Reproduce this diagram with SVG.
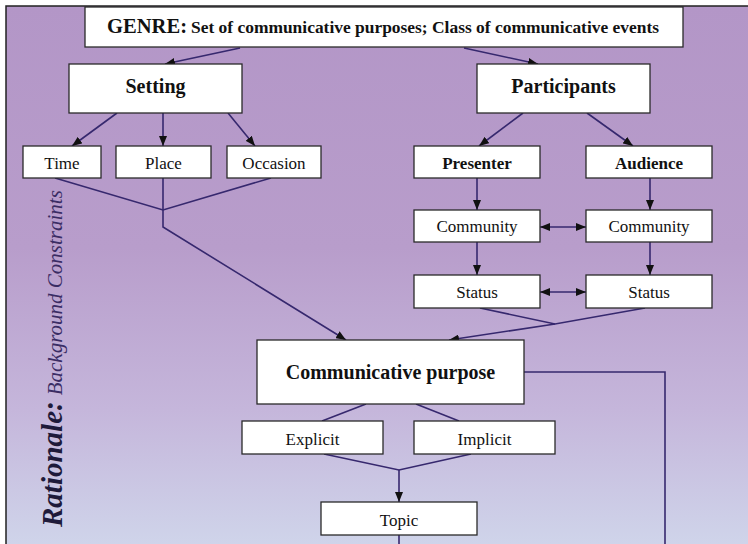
<svg xmlns="http://www.w3.org/2000/svg" width="748" height="544" viewBox="0 0 748 544">
  <defs>
    <linearGradient id="bg" x1="0" y1="0" x2="0" y2="1">
      <stop offset="0" stop-color="#b396c7"/>
      <stop offset="0.45" stop-color="#b89dcb"/>
      <stop offset="0.75" stop-color="#c5b6db"/>
      <stop offset="1" stop-color="#cfd4ea"/>
    </linearGradient>
    <marker id="ah" viewBox="0 0 10 8" refX="10" refY="4" markerWidth="10" markerHeight="8" markerUnits="userSpaceOnUse" orient="auto-start-reverse">
      <path d="M0,0 L10,4 L0,8 z" fill="#111"/>
    </marker>
  </defs>
  <style>
    .box{fill:#fff;stroke:#2a2a2a;stroke-width:1.3}
    .t{font-family:"Liberation Serif","Times New Roman",serif;fill:#111;text-anchor:middle;font-size:17px}
    .b{font-weight:bold}
    .c{fill:none;stroke:#36286e;stroke-width:1.6}
    .a{marker-end:url(#ah)}
    .d{marker-start:url(#ah);marker-end:url(#ah)}
  </style>

  <!-- backdrop and frame -->
  <rect x="0" y="0" width="748" height="544" fill="#fff"/>
  <rect x="6" y="6" width="742" height="538" fill="url(#bg)"/>
  <path d="M6,544 L6,6 L748,6" fill="none" stroke="#222" stroke-width="1.5"/>

  <!-- side caption -->
  <text transform="translate(62,527) rotate(-90)" font-family="Liberation Serif, Times New Roman, serif" font-style="italic"><tspan font-weight="bold" font-size="29" fill="#1e1a3a">Rationale:</tspan><tspan font-size="21" fill="#3a2c64" dx="6">Background Constraints</tspan></text>

  <!-- connectors -->
  <g id="connectors">
    <path class="c a" d="M240,48 L165,64"/>
    <path class="c a" d="M464,48 L538,64"/>
    <path class="c a" d="M117,113 L72,146"/>
    <path class="c a" d="M163,113 L163,146"/>
    <path class="c a" d="M228,113 L255,146"/>
    <path class="c a" d="M523,113 L479,146"/>
    <path class="c a" d="M587,113 L633,146"/>
    <path class="c a" d="M477,178 L477,210"/>
    <path class="c a" d="M650,178 L650,210"/>
    <path class="c d" d="M540,227 L586,227" stroke="#111"/>
    <path class="c a" d="M477,242 L477,275"/>
    <path class="c a" d="M650,242 L650,275"/>
    <path class="c d" d="M540,292 L586,292"/>
    <path class="c" d="M55,178 L163,210 L271,178"/>
    <path class="c a" d="M163,178 L163,227 L346,340"/>
    <path class="c" d="M480,308 L555,324 L645,308"/>
    <path class="c a" d="M555,324 L449,340"/>
    <path class="c" d="M366,404 L322,421"/>
    <path class="c" d="M416,404 L459,421"/>
    <path class="c" d="M324,454 L399,470 L471,454"/>
    <path class="c a" d="M399,470 L399,502" stroke="#1c1a4a"/>
    <path class="c" d="M399,535 L399,544" stroke="#1c1a4a"/>
    <path class="c" d="M524,372 L665,372 L665,544" stroke="#1c1a4a"/>
  </g>

  <!-- nodes -->
  <g id="genre">
    <rect class="box" x="85" y="7" width="598" height="40"/>
    <text class="t b" x="107" y="33" style="text-anchor:start;font-size:20px" textLength="80" lengthAdjust="spacingAndGlyphs">GENRE:</text>
    <text class="t b" x="191" y="33" style="text-anchor:start;font-size:17px" textLength="468" lengthAdjust="spacingAndGlyphs">Set of communicative purposes; Class of communicative events</text>
  </g>
  <g id="setting">
    <rect class="box" x="69" y="64" width="173" height="49"/>
    <text class="t b" x="155.5" y="93" style="font-size:20px">Setting</text>
  </g>
  <g id="participants">
    <rect class="box" x="477" y="64" width="173" height="49"/>
    <text class="t b" x="563.5" y="93" style="font-size:20px">Participants</text>
  </g>
  <g id="time">
    <rect class="box" x="23" y="146" width="78" height="32"/>
    <text class="t" x="62" y="169">Time</text>
  </g>
  <g id="place">
    <rect class="box" x="116" y="146" width="95" height="32"/>
    <text class="t" x="163.5" y="169">Place</text>
  </g>
  <g id="occasion">
    <rect class="box" x="227" y="146" width="94" height="32"/>
    <text class="t" x="274" y="169">Occasion</text>
  </g>
  <g id="presenter">
    <rect class="box" x="414" y="146" width="126" height="32"/>
    <text class="t b" x="477" y="169">Presenter</text>
  </g>
  <g id="audience">
    <rect class="box" x="586" y="146" width="126" height="32"/>
    <text class="t b" x="649" y="169">Audience</text>
  </g>
  <g id="community-presenter">
    <rect class="box" x="414" y="210" width="126" height="32"/>
    <text class="t" x="477" y="232">Community</text>
  </g>
  <g id="community-audience">
    <rect class="box" x="586" y="210" width="126" height="32"/>
    <text class="t" x="649" y="232">Community</text>
  </g>
  <g id="status-presenter">
    <rect class="box" x="414" y="275" width="126" height="33"/>
    <text class="t" x="477" y="298">Status</text>
  </g>
  <g id="status-audience">
    <rect class="box" x="586" y="275" width="126" height="33"/>
    <text class="t" x="649" y="298">Status</text>
  </g>
  <g id="purpose">
    <rect class="box" x="257" y="340" width="267" height="64"/>
    <text class="t b" x="390.5" y="379" style="font-size:20px">Communicative purpose</text>
  </g>
  <g id="explicit">
    <rect class="box" x="242" y="421" width="141" height="33"/>
    <text class="t" x="312.5" y="445">Explicit</text>
  </g>
  <g id="implicit">
    <rect class="box" x="414" y="421" width="141" height="33"/>
    <text class="t" x="484.5" y="445">Implicit</text>
  </g>
  <g id="topic">
    <rect class="box" x="321" y="502" width="156" height="33"/>
    <text class="t" x="399" y="526">Topic</text>
  </g>
</svg>
